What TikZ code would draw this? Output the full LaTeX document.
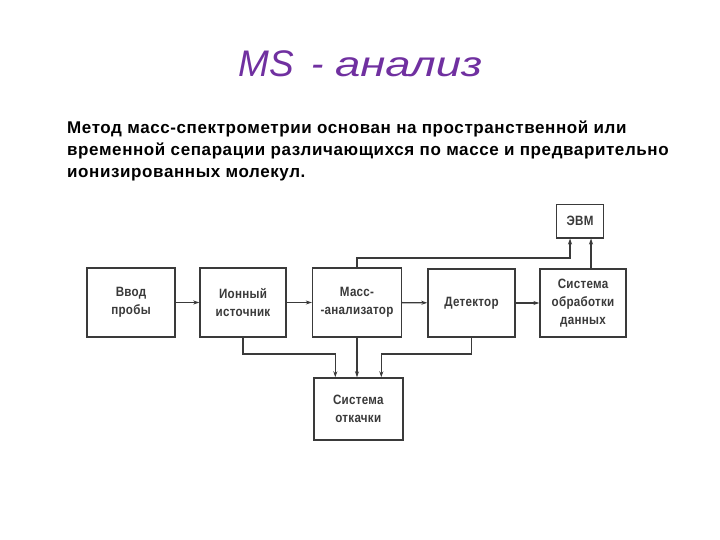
\documentclass[tikz,border=0pt]{standalone}
\usepackage{fontspec}
\usepackage{graphicx}
\setmainfont{Liberation Sans}
\newfontfamily\diagfont[FakeStretch=0.86,LetterSpace=2]{Liberation Sans}
\newfontfamily\bodyfont[LetterSpace=3.5]{Liberation Sans}
\usetikzlibrary{arrows.meta}
\definecolor{titlecol}{HTML}{7030A0}
\definecolor{linecol}{HTML}{3A3A3A}
\begin{document}
\begin{tikzpicture}[x=1pt,y=-1pt,
  blk/.style={draw=linecol, line width=1.4pt, fill=white, text=linecol,
    font=\diagfont\bfseries\fontsize{13.5}{18}\selectfont, align=center, inner sep=0pt},
  arr/.style={draw=linecol, line width=1.4pt, -{Stealth[length=6pt,width=4pt]}},
]
\useasboundingbox (0,0) rectangle (720,540);
\node[anchor=base west, inner sep=0pt, text=titlecol, font=\itshape\fontsize{37}{42}\selectfont] (title) at (238,77)
  {MS\hspace{18pt}-\hspace{11pt}{\fontsize{35}{40}\selectfont\scalebox{1.3}[1]{анализ}}};
\node[anchor=base west, inner sep=0pt, align=left, font=\bodyfont\bfseries\fontsize{17}{22.3}\selectfont] (body) at (67,178)
  {Метод масс-спектрометрии основан на пространственной или\\
   временной сепарации различающихся по массе и предварительно\\
   ионизированных молекул.};

\node[blk, minimum width=88pt, minimum height=69pt] (vvod) at (131,302.5) {Ввод\\пробы};
\node[blk, minimum width=86pt, minimum height=69pt] (ion) at (243,302.5) {Ионный\\источник};
\node[blk, minimum width=89pt, minimum height=69pt] (mass) at (357,302.5) {Масс-\\-анализатор};
\node[blk, minimum width=87pt, minimum height=68pt] (det) at (471.5,303) {Детектор};
\node[blk, minimum width=86pt, minimum height=68pt] (sys) at (583,303) {Система\\обработки\\данных};
\node[blk, minimum width=47pt, minimum height=33pt] (evm) at (580,221.3) {ЭВМ};
\node[blk, minimum width=89pt, minimum height=62pt] (otk) at (358.3,409) {Система\\откачки};

\draw[arr] (vvod) -- (ion);
\draw[arr] (ion) -- (mass);
\draw[arr] (mass) -- (det);
\draw[arr] (det) -- (sys);

\draw[arr] (ion.south) -- (ion.south |- 0,354) -| ([xshift=-23pt]otk.north);
\draw[arr] (mass.south) -- (mass.south |- otk.north);
\draw[arr] (det.south) -- (det.south |- 0,354) -| ([xshift=23pt]otk.north);

\draw[arr] (mass.north) -- (mass.north |- 0,258) -| ([xshift=-10pt]evm.south);
\draw[arr] ([xshift=8pt]sys.north) -- ([xshift=8pt]sys.north |- evm.south);
\end{tikzpicture}
\end{document}
